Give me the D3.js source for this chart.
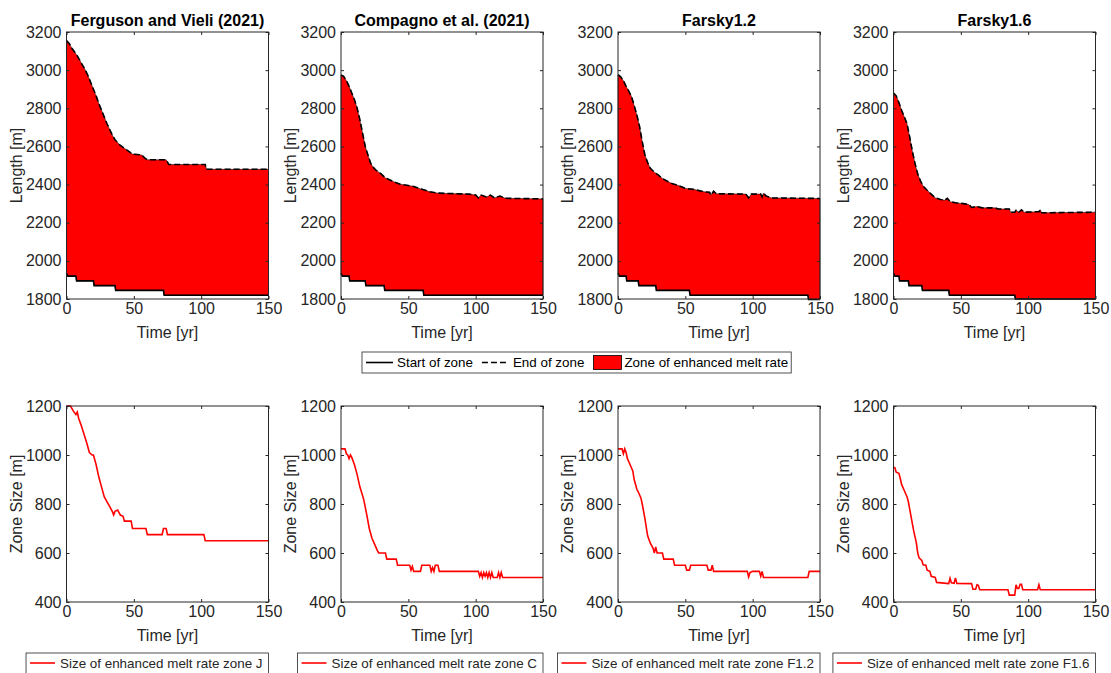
<!DOCTYPE html>
<html>
<head>
<meta charset="utf-8">
<script src="https://cdn.jsdelivr.net/npm/d3@7"></script>
<style>
  body { margin: 0; background: #fff; }
  text { font-family: "Liberation Sans", Arial, Helvetica, sans-serif; fill: #262626; }
</style>
</head>
<body>
<svg id="fig" width="1111" height="673"></svg>
<script>
// ---- data ----
const titles = ["Ferguson and Vieli (2021)", "Compagno et al. (2021)", "Farsky1.2", "Farsky1.6"];
const zoneIds = ["J", "C", "F1.2", "F1.6"];
const xTicks = [0, 50, 100, 150];
const lengthTicks = [1800, 2000, 2200, 2400, 2600, 2800, 3000, 3200];
const sizeTicks = [400, 600, 800, 1000, 1200];

// [time (yr), length (m)]
const endJ = [[0,3155],[2,3140],[4,3115],[6,3095],[8,3075],[10,3050],[12,3025],[14,3000],[16,2970],[18,2935],[20,2900],[22,2865],[24,2825],[26,2790],[28,2755],[30,2720],[32,2690],[34,2660],[36,2635],[38,2620],[40,2605],[43,2590],[46,2575],[49,2560],[56,2555],[58,2540],[60,2530],[74,2530],[76,2505],[103,2505],[104,2480],[150,2480]];
const startJ = [[0,1935],[1,1920],[7,1920],[7.5,1895],[20,1895],[20.5,1870],[36,1870],[36.5,1845],[72,1845],[72.5,1820],[150,1820]];

const endC = [[0,2975],[2,2968],[4,2945],[6,2915],[8,2880],[10,2845],[12,2800],[14,2740],[16,2670],[18,2600],[20,2555],[22,2512],[24,2490],[26,2475],[28,2465],[30,2455],[33,2435],[36,2425],[40,2412],[44,2402],[50,2395],[54,2390],[58,2380],[62,2372],[66,2362],[72,2355],[80,2353],[95,2350],[100,2345],[102,2330],[104,2345],[108,2335],[111,2345],[114,2330],[118,2340],[122,2328],[150,2325]];
const startC = [[0,1935],[1,1920],[6,1920],[6.5,1895],[18,1895],[18.5,1870],[32,1870],[32.5,1845],[61,1845],[61.5,1820],[150,1820]];

const endF12 = [[0,2976],[2,2965],[4,2945],[6,2915],[8,2890],[10,2862],[12,2815],[14,2765],[16,2705],[18,2625],[20,2555],[22,2515],[24,2485],[27,2465],[30,2450],[33,2432],[36,2420],[40,2405],[45,2395],[50,2380],[56,2375],[64,2362],[68,2360],[69,2345],[71,2365],[73,2352],[95,2350],[97,2330],[99,2350],[106,2350],[107,2335],[108,2355],[110,2340],[114,2330],[150,2327]];
const startF12 = [[0,1935],[1,1920],[6,1920],[6.5,1895],[15,1895],[15.5,1870],[28,1870],[28.5,1845],[53,1845],[53.5,1820],[141,1820],[141.5,1797],[150,1797]];

const endF16 = [[0,2880],[2,2865],[4,2830],[6,2790],[8,2755],[10,2720],[12,2650],[14,2575],[16,2510],[18,2455],[20,2420],[22,2392],[25,2370],[28,2350],[31,2330],[35,2322],[38,2318],[40,2328],[42,2310],[46,2305],[52,2300],[56,2295],[58,2280],[62,2285],[66,2278],[75,2278],[78,2272],[86,2272],[87,2255],[90,2255],[91,2265],[93,2255],[95,2268],[97,2255],[108,2258],[109,2268],[110,2252],[150,2255]];
const startF16 = [[0,1935],[1,1920],[4,1920],[4.5,1895],[11,1895],[11.5,1870],[21,1870],[21.5,1845],[41,1845],[41.5,1820],[90,1820],[90.5,1800],[150,1800]];

// [time (yr), zone size (m)]
const sizeJ = [[0,1200],[3,1200],[5,1180],[7,1165],[8,1175],[9,1150],[11,1120],[13,1085],[15,1050],[17,1010],[19,1000],[20,1000],[22,960],[24,910],[26,870],[28,830],[30,810],[32,790],[34,770],[35,755],[36,770],[38,775],[39,765],[40,755],[42,750],[43,730],[48,730],[49,700],[59,700],[60,675],[71,675],[72,700],[74,700],[75,675],[102,675],[103,650],[150,650]];
const sizeC = [[0,1025],[3,1025],[4,1005],[5,1000],[6,985],[7,1000],[8,990],[10,960],[12,920],[14,870],[16,835],[17,815],[19,760],[21,700],[23,660],[25,635],[27,610],[28,600],[33,600],[34,575],[41,575],[42,550],[51,550],[52,530],[53,545],[54,525],[59,525],[60,550],[66,550],[67,525],[68,540],[69,525],[70,550],[72,550],[73,525],[102,525],[103,505],[104,520],[105,500],[106,520],[107,505],[108,520],[109,500],[110,520],[111,500],[112,520],[113,500],[116,500],[117,520],[118,500],[119,520],[120,500],[150,500]];
const sizeF12 = [[0,1025],[3,1025],[4,1005],[5,1025],[6,1010],[7,985],[9,960],[11,935],[12,900],[14,860],[15,850],[17,825],[18,800],[20,740],[22,670],[24,640],[26,620],[27,600],[28,625],[29,600],[33,600],[34,575],[41,575],[42,550],[50,550],[51,530],[53,530],[54,550],[66,550],[67,530],[69,530],[70,550],[71,525],[96,525],[97,502],[98,520],[100,525],[105,525],[106,505],[107,525],[108,500],[141,500],[142,525],[150,525]];
const sizeF16 = [[0,950],[1,948],[2,930],[4,925],[5,905],[6,880],[8,855],[10,830],[11,810],[12,780],[14,720],[15,690],[17,640],[18,600],[19,580],[21,570],[22,552],[24,550],[25,530],[27,525],[28,505],[31,500],[32,480],[41,475],[42,497],[43,478],[45,476],[46,498],[47,476],[58,475],[59,452],[61,452],[62,470],[63,468],[64,450],[85,450],[86,428],[90,428],[91,470],[92,455],[93,455],[94,472],[95,472],[96,450],[107,450],[108,470],[109,450],[150,450]];

const ends = [endJ, endC, endF12, endF16];
const starts = [startJ, startC, startF12, startF16];
const sizes = [sizeJ, sizeC, sizeF12, sizeF16];

// ---- layout ----
const svg = d3.select("#fig");
const ink = "#262626";
const panelLeft = [66.5, 341, 618, 893.5];
const panelW = 202;
const topRow = {y0: 32, y1: 299};
const botRow = {y0: 406, y1: 602};
const legendFont = 13.4;

function frame(g, x, y, yTicks, yLabel) {
  const [xa, xb] = x.range();
  const [yb, ya] = y.range();
  g.append("g")
    .attr("transform", `translate(0,${yb})`)
    .call(d3.axisBottom(x).tickValues(xTicks).tickSizeInner(-3).tickSizeOuter(0).tickPadding(4));
  g.append("g")
    .attr("transform", `translate(0,${ya})`)
    .call(d3.axisTop(x).tickValues(xTicks).tickSizeInner(-3).tickSizeOuter(0).tickFormat(""));
  g.append("g")
    .attr("transform", `translate(${xa},0)`)
    .call(d3.axisLeft(y).tickValues(yTicks).tickSizeInner(-3).tickSizeOuter(0).tickPadding(5).tickFormat(d3.format("d")));
  g.append("g")
    .attr("transform", `translate(${xb},0)`)
    .call(d3.axisRight(y).tickValues(yTicks).tickSizeInner(-3).tickSizeOuter(0).tickFormat(""));
  g.selectAll(".domain").remove();
  g.selectAll(".tick line").attr("stroke", ink);
  g.selectAll(".tick text").attr("font-size", 16).style("fill", ink);
  g.selectAll("g").attr("font-family", null);

  g.append("rect")
    .attr("x", xa).attr("y", ya)
    .attr("width", xb - xa).attr("height", yb - ya)
    .attr("fill", "none").attr("stroke", ink).attr("stroke-width", 1);

  g.append("text")
    .attr("x", (xa + xb) / 2).attr("y", yb + 39)
    .attr("text-anchor", "middle").attr("font-size", 16)
    .text("Time [yr]");
  g.append("text")
    .attr("transform", `translate(${xa - 45},${(ya + yb) / 2}) rotate(-90)`)
    .attr("text-anchor", "middle").attr("font-size", 16)
    .text(yLabel);
}

panelLeft.forEach((left, i) => {
  const x = d3.scaleLinear().domain([0, 150]).range([left, left + panelW]);

  // ---- top: zone of enhanced melt ----
  const yL = d3.scaleLinear().domain([1800, 3200]).range([topRow.y1, topRow.y0]);
  const line = d3.line().x(d => x(d[0])).y(d => yL(d[1]));
  const gt = svg.append("g");
  gt.append("path")
    .attr("d", line(ends[i].concat(starts[i].slice().reverse())) + "Z")
    .attr("fill", "#ff0000").attr("stroke", "#000").attr("stroke-width", 0.5);
  gt.append("path").attr("d", line(starts[i]))
    .attr("fill", "none").attr("stroke", "#000").attr("stroke-width", 1.6);
  gt.append("path").attr("d", line(ends[i]))
    .attr("fill", "none").attr("stroke", "#000").attr("stroke-width", 1.6)
    .attr("stroke-dasharray", "6,3");
  frame(gt, x, yL, lengthTicks, "Length [m]");
  gt.append("text")
    .attr("x", left + panelW / 2).attr("y", 26)
    .attr("text-anchor", "middle").attr("font-size", 16).attr("font-weight", "bold")
    .style("fill", "#000")
    .text(titles[i]);

  // ---- bottom: zone size ----
  const yS = d3.scaleLinear().domain([400, 1200]).range([botRow.y1, botRow.y0]);
  const gb = svg.append("g");
  gb.append("path")
    .attr("d", d3.line().x(d => x(d[0])).y(d => yS(d[1]))(sizes[i]))
    .attr("fill", "none").attr("stroke", "#ff0000").attr("stroke-width", 1.6);
  frame(gb, x, yS, sizeTicks, "Zone Size [m]");

  // legend under each bottom panel, right-aligned with the axes
  const lg = svg.append("g");
  const txt = lg.append("text")
    .attr("y", 668).attr("font-size", legendFont)
    .text("Size of enhanced melt rate zone " + zoneIds[i]);
  const tw = txt.node().getComputedTextLength();
  const right = left + panelW;
  const L = right - (tw + 40);
  txt.attr("x", L + 34);
  lg.insert("rect", "text")
    .attr("x", L).attr("y", 653).attr("width", right - L).attr("height", 22)
    .attr("fill", "#fff").attr("stroke", ink).attr("stroke-width", 0.8);
  lg.append("line")
    .attr("x1", L + 4).attr("x2", L + 29).attr("y1", 663).attr("y2", 663)
    .attr("stroke", "#ff0000").attr("stroke-width", 1.6);
});

// ---- shared legend for top row ----
const legendItems = [
  {label: "Start of zone", kind: "solid"},
  {label: "End of zone", kind: "dash"},
  {label: "Zone of enhanced melt rate", kind: "patch"}
];
const lgTop = svg.append("g");
const lgBox = lgTop.append("rect");
let cx = 366;
const cy = 362.5;
legendItems.forEach(it => {
  if (it.kind === "patch") {
    lgTop.append("rect")
      .attr("x", cx).attr("y", cy - 7).attr("width", 28).attr("height", 14)
      .attr("fill", "#ff0000").attr("stroke", "#000").attr("stroke-width", 0.8);
  } else {
    lgTop.append("line")
      .attr("x1", cx).attr("x2", cx + 27).attr("y1", cy).attr("y2", cy)
      .attr("stroke", "#000").attr("stroke-width", 1.6)
      .attr("stroke-dasharray", it.kind === "dash" ? "6,3" : null);
  }
  const t = lgTop.append("text")
    .attr("x", cx + 31).attr("y", cy + 4.5).attr("font-size", legendFont)
    .style("fill", "#000")
    .text(it.label);
  cx += 31 + t.node().getComputedTextLength() + 9;
});
lgBox.attr("x", 362).attr("y", 352).attr("width", cx - 9 + 3 - 362).attr("height", 21)
  .attr("fill", "#fff").attr("stroke", ink).attr("stroke-width", 0.8);
</script>
</body>
</html>
